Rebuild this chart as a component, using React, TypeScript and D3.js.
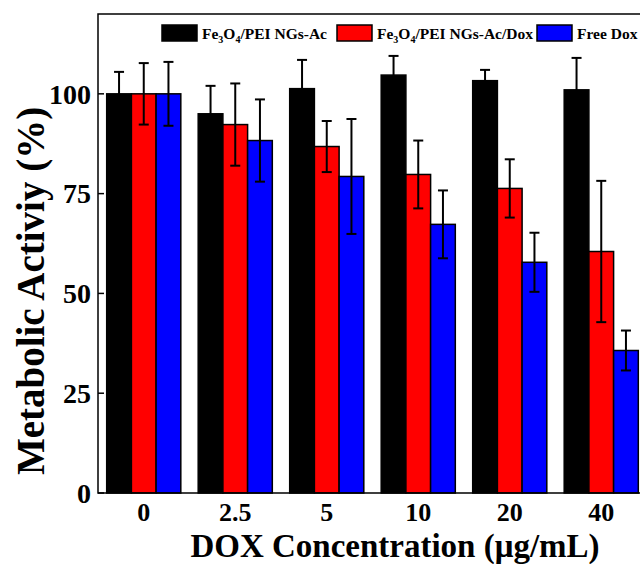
import React from "react";
import * as d3 from "d3";

const categories = ["0", "2.5", "5", "10", "20", "40"];
const seriesNames = ["Fe3O4/PEI NGs-Ac", "Fe3O4/PEI NGs-Ac/Dox", "Free Dox"];
const acValues = [100, 95, 101.3, 104.7, 103.3, 101];
const acErrors = [5.5, 7, 7.2, 4.8, 2.7, 8];
const acDoxValues = [100, 92.3, 86.8, 79.8, 76.3, 60.5];
const acDoxErrors = [7.7, 10.3, 6.4, 8.5, 7.3, 17.7];
const freeDoxValues = [100, 88.3, 79.3, 67.3, 57.8, 35.7];
const freeDoxErrors = [8, 10.3, 14.4, 8.5, 7.4, 5];
const yTicks = [0, 25, 50, 75, 100];

const colors = ["#000000", "#ff0000", "#0000ff"];
const FONT = "'Liberation Serif', 'Times New Roman', serif";

export default function App() {
  const W = 640, H = 564;
  const left = 98, top = 14, bottom = 493, rightEdge = 647;
  const x = d3.scaleBand<string>().domain(categories).range([left, rightEdge]).paddingInner(0.19).paddingOuter(0.095);
  const inner = d3.scaleBand<number>().domain([0, 1, 2]).range([0, x.bandwidth()]).padding(0);
  const y = d3.scaleLinear().domain([0, 120]).range([bottom, top]);

  const series = [
    { name: seriesNames[0], values: acValues, errors: acErrors },
    { name: seriesNames[1], values: acDoxValues, errors: acDoxErrors },
    { name: seriesNames[2], values: freeDoxValues, errors: freeDoxErrors },
  ];

  const legendItems = [
    { x: 162, sub: true, parts: ["Fe", "3", "O", "4", "/PEI NGs-Ac"] },
    { x: 337, sub: true, parts: ["Fe", "3", "O", "4", "/PEI NGs-Ac/Dox"] },
    { x: 537, sub: false, parts: ["Free Dox"] },
  ];

  return (
    <svg width={W} height={H} style={{ position: "absolute", left: 0, top: 0, background: "#fff" }} fontFamily={FONT}>
      <rect x={0} y={0} width={W} height={H} fill="#fff" />
      {series.map((s, si) =>
        categories.map((c, ci) => {
          const bx = (x(c) as number) + (inner(si) as number);
          const v = s.values[ci];
          return (
            <rect key={`b${si}-${ci}`} x={bx} y={y(v)} width={inner.bandwidth()} height={bottom - y(v)}
              fill={colors[si]} stroke="#000" strokeWidth={1.5} />
          );
        })
      )}
      {series.map((s, si) =>
        categories.map((c, ci) => {
          const cx = (x(c) as number) + (inner(si) as number) + inner.bandwidth() / 2;
          const v = s.values[ci], e = s.errors[ci];
          return (
            <g key={`e${si}-${ci}`} stroke="#000" strokeWidth={2}>
              <line x1={cx} x2={cx} y1={y(v + e)} y2={y(v - e)} />
              <line x1={cx - 5} x2={cx + 5} y1={y(v + e)} y2={y(v + e)} />
              <line x1={cx - 5} x2={cx + 5} y1={y(v - e)} y2={y(v - e)} />
            </g>
          );
        })
      )}
      <path d={`M${rightEdge},${top}H${left}V${bottom}H${rightEdge}`} fill="none" stroke="#000" strokeWidth={1.5} />
      {yTicks.map((t) => (
        <g key={`yt${t}`}>
          <line x1={left} x2={left + 6} y1={y(t)} y2={y(t)} stroke="#000" strokeWidth={1.5} />
          <text x={left - 7} y={y(t)} dy="0.35em" textAnchor="end" fontSize={28} fontWeight="bold">{t}</text>
        </g>
      ))}
      {categories.map((c) => (
        <text key={`xl${c}`} x={(x(c) as number) + x.bandwidth() / 2} y={521} textAnchor="middle" fontSize={26} fontWeight="bold">{c}</text>
      ))}
      <text x={395} y={556.5} textAnchor="middle" fontSize={33} fontWeight="bold">DOX Concentration (μg/mL)</text>
      <text transform={`translate(44,${291}) rotate(-90)`} textAnchor="middle" fontSize={39} fontWeight="bold">Metabolic Activiy (%)</text>
      {legendItems.map((li, i) => (
        <g key={`lg${i}`}>
          <rect x={li.x} y={25} width={35} height={16} fill={colors[i]} stroke="#000" strokeWidth={1.5} />
          <text x={li.x + 40} y={39} fontSize={15.5} fontWeight="bold">
            {li.sub ? (
              <>
                <tspan>{li.parts[0]}</tspan>
                <tspan fontSize={10} dy={4}>{li.parts[1]}</tspan>
                <tspan dy={-4}>{li.parts[2]}</tspan>
                <tspan fontSize={10} dy={4}>{li.parts[3]}</tspan>
                <tspan dy={-4}>{li.parts[4]}</tspan>
              </>
            ) : (
              li.parts[0]
            )}
          </text>
        </g>
      ))}
    </svg>
  );
}
